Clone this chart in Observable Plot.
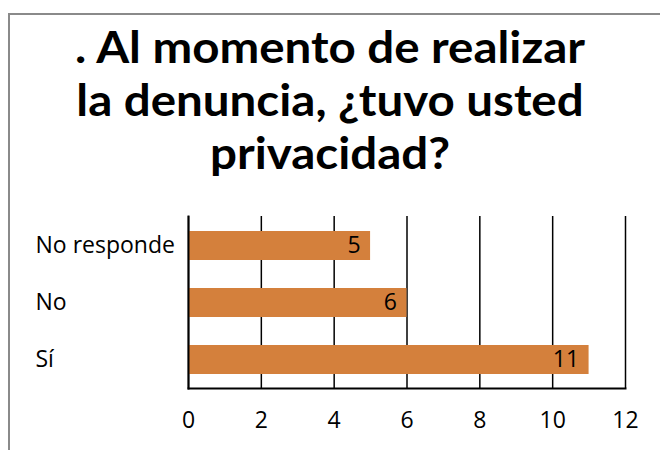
<!DOCTYPE html>
<html>
<head>
<meta charset="utf-8">
<script src="https://cdn.jsdelivr.net/npm/d3@7"></script>
<script src="https://cdn.jsdelivr.net/npm/@observablehq/plot@0.6"></script>
<style>
  html, body { margin: 0; padding: 0; background: #fff; }
  #wrap { position: relative; width: 660px; height: 450px; overflow: hidden; font-family: "Open Sans", sans-serif; }
  #border { position: absolute; left: 8px; top: 13px; width: 700px; height: 500px; border-left: 2px solid #8a8a8a; border-top: 2px solid #8a8a8a; }
  #title { position: absolute; left: 0; top: 20px; width: 660px; text-align: center; font-family: Lato, sans-serif; font-weight: 700; font-size: 44px; line-height: 53px; color: #000; transform-origin: 330px 0; white-space: nowrap; }
  #title div { height: 53px; }
  #chart { position: absolute; left: 0; top: 200px; }
</style>
</head>
<body>
<div id="wrap">
  <div id="border"></div>
  <div id="title"><div><span id="l1">. Al momento de realizar</span></div><div>la denuncia, ¿tuvo usted</div><div>privacidad?</div></div>
  <div id="chart"></div>
</div>
<script>
const categories = ["No responde", "No", "Sí"];
const values = [5, 6, 11];
const xTicks = [0, 2, 4, 6, 8, 10, 12];

const data = categories.map((c, i) => ({category: c, value: values[i]}));

const chart = Plot.plot({
  width: 660,
  height: 250,
  marginTop: 16,
  marginBottom: 62,
  marginLeft: 188,
  marginRight: 35,
  style: {fontFamily: "'Open Sans', sans-serif", fontSize: "23px", color: "#000", background: "transparent"},
  x: {domain: [0, 12], ticks: xTicks, label: null},
  y: {domain: categories, paddingInner: 0.5, paddingOuter: 0.25, label: null},
  marks: [
    Plot.gridX(xTicks, {stroke: "#000", strokeOpacity: 1, strokeWidth: 1.5}),
    Plot.barX(data, {x: "value", y: "category", fill: "#D4803C"}),
    Plot.frame({anchor: "left", stroke: "#000", strokeWidth: 2}),
    Plot.frame({anchor: "bottom", stroke: "#000", strokeWidth: 2}),
    Plot.axisX({ticks: xTicks, tickSize: 0, tickPadding: 23, label: null}),
    Plot.axisY({tickSize: 0, tickPadding: 153, textAnchor: "start", label: null}),
    Plot.text(data, {x: "value", y: "category", text: d => String(d.value), textAnchor: "end", dx: -10, fill: "#000"})
  ]
});
document.getElementById("chart").appendChild(chart);

// fit the title's first line to the reference width
const w = document.getElementById("l1").getBoundingClientRect().width;
if (w > 0) document.getElementById("title").style.transform = `scaleX(${Math.min(1.2, 510 / w)})`;
</script>
</body>
</html>
